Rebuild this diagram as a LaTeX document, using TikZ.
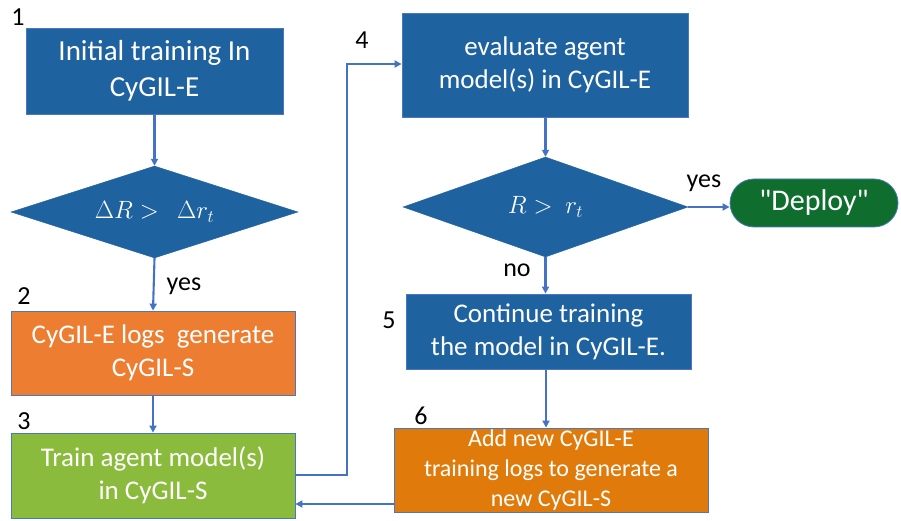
\RequirePackage{fix-cm}
\documentclass[tikz,border=0pt]{standalone}
\usepackage{fontspec}
\setmainfont{Carlito}
\newfontfamily\plainq{Carlito}
\usetikzlibrary{shapes.geometric,arrows.meta}
\definecolor{mblue}{RGB}{31,98,160}
\definecolor{edgeblue}{RGB}{74,120,192}
\definecolor{arrowblue}{RGB}{68,114,196}
\definecolor{orangeA}{RGB}{237,125,49}
\definecolor{orangeB}{RGB}{224,123,11}
\definecolor{greenA}{RGB}{139,187,61}
\definecolor{greenD}{RGB}{15,110,46}
\begin{document}
\begin{tikzpicture}[x=1pt,y=-1pt,
  box/.style={draw=edgeblue, line width=0.8pt, text=white, align=center, inner sep=0pt},
  dia/.style={diamond, shape aspect=3, draw=mblue, fill=mblue, inner sep=0pt, text=white},
  conn/.style={draw=arrowblue, line width=2.1pt, -{Triangle[length=7pt,width=7pt]}},
  num/.style={font=\fontsize{26}{30}\selectfont, text=black, inner sep=0pt},
  lab/.style={font=\fontsize{26}{30}\selectfont, text=black, inner sep=0pt},
  txtA/.style={font=\fontsize{29}{36}\selectfont},
  txtB/.style={font=\fontsize{27}{33}\selectfont},
  txtC/.style={font=\fontsize{24}{30}\selectfont},
  mth/.style={font=\fontsize{25}{30}\selectfont}
]
\useasboundingbox (0,0) rectangle (901,521);

% nodes
\node[box, fill=mblue, minimum width=257pt, minimum height=86pt, txtA] (b1) at (154.5,71) {Initial training In\\CyGIL-E};
\node[dia, minimum width=287pt, minimum height=92pt, mth] (d1) at (154.5,212) {$\Delta R >\ \ \Delta r_t$};
\node[box, fill=orangeA, minimum width=284pt, minimum height=84pt, txtB] (b2) at (153,353) {CyGIL-E logs\ \ generate\\CyGIL-S};
\node[box, fill=greenA, minimum width=284pt, minimum height=85pt, txtB] (b3) at (153,475.5) {Train agent model(s)\\in CyGIL-S};
\node[box, fill=mblue, minimum width=286pt, minimum height=104pt, txtB] (b4) at (545,65) {evaluate agent\\model(s) in CyGIL-E};
\node[dia, minimum width=285pt, minimum height=100pt, mth] (d2) at (545.5,207) {$R >\ r_t$};
\node[box, fill=greenD, draw=edgeblue, rounded corners=24pt, minimum width=168pt, minimum height=48pt, font=\plainq\fontsize{30}{36}\selectfont] (dep) at (814,203) {"Deploy"};
\node[box, fill=mblue, minimum width=285pt, minimum height=75pt, txtB] (b5) at (548.5,331.5) {Continue training\\the model in CyGIL-E.};
\node[box, fill=orangeB, minimum width=314pt, minimum height=84pt, txtC] (b6) at (551,470) {Add new CyGIL-E\\training logs to generate a\\new CyGIL-S};

% numbers
\node[num] (n1) at (18,17) {1};
\node[num] (n2) at (24,296) {2};
\node[num] (n3) at (24,421) {3};
\node[num] (n4) at (362,40) {4};
\node[num] (n5) at (389,320) {5};
\node[num] (n6) at (421,416) {6};

% labels
\node[lab] (yes1) at (184,286) {yes};
\node[lab] (no2) at (517,270) {no};
\node[lab] (yes2) at (704,183) {yes};

% connectors
\coordinate (c1) at (347,475);
\coordinate (c2) at (347,64);
\coordinate (c56) at (546,0);
\coordinate (c63) at (0,504);
\draw[conn] (b1.south) -- (d1.north);
\draw[conn] (d1.south) -- (b2.north);
\draw[conn] (b2.south) -- (b3.north);
\draw[conn] (b3.east |- c1) -- (c1) -- (c2) -- (b4.west |- c2);
\draw[conn] (b4.south -| d2.north) -- (d2.north);
\draw[conn] (d2.east) -- (d2.east -| dep.west);
\draw[conn] (d2.south) -- (d2.south |- b5.north);
\draw[conn] (c56 |- b5.south) -- (c56 |- b6.north);
\draw[conn] (b6.west |- c63) -- (b3.east |- c63);
\end{tikzpicture}
\end{document}
